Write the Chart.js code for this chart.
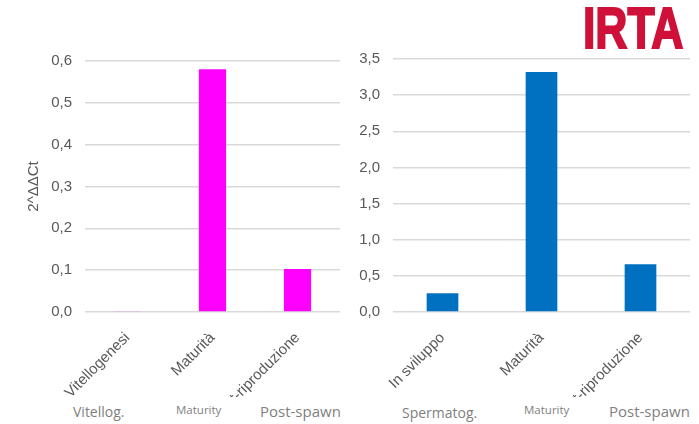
<!DOCTYPE html>
<html>
<head>
<meta charset="utf-8">
<script src="https://cdn.jsdelivr.net/npm/chart.js@4"></script>
<style>
    body { margin: 0; background: #ffffff; width: 699px; height: 424px; overflow: hidden; position: relative; }
    canvas { position: absolute; top: 0; }
    .note { position: absolute; font-family: "Open Sans", sans-serif; color: #7f7f7f; line-height: 1; white-space: nowrap; }
    .logo { position: absolute; left: 583px; top: 0; font-family: "Liberation Sans", Arial, sans-serif; font-weight: bold;
            font-size: 57px; line-height: 1; color: #cf1139; -webkit-text-stroke: 2px #cf1139;
            transform: scaleX(0.78); transform-origin: left top; }
</style>
</head>
<body>
<div class="logo">IRTA</div>
<canvas id="ChartFemale" width="340" height="397" style="left:0px;"></canvas>
<canvas id="ChartMale" width="345" height="397" style="left:345px;"></canvas>

<div class="note" style="left:73px; top:405px; font-size:14px;">Vitellog.</div>
<div class="note" style="left:176px; top:404px; font-size:11.5px;">Maturity</div>
<div class="note" style="left:260px; top:404px; font-size:15px;">Post-spawn</div>
<div class="note" style="left:402px; top:406px; font-size:14px;">Spermatog.</div>
<div class="note" style="left:524px; top:404px; font-size:11.5px;">Maturity</div>
<div class="note" style="left:609px; top:404px; font-size:15px;">Post-spawn</div>

<script>
var femaleStages = ["Vitellogenesi", "Maturità", "Post-riproduzione"];
var femaleValues = [0.002, 0.58, 0.103];
var femaleTicks = { max: 0.6, step: 0.1 };

var maleStages = ["In sviluppo", "Maturità", "Post-riproduzione"];
var maleValues = [0.26, 3.32, 0.66];
var maleTicks = { max: 3.5, step: 0.5 };

function MakeChart(id, labels, values, color, yTicks, yWidth, topPad, title) {
    var ctx = document.getElementById(id).getContext('2d');

    return new Chart(ctx, {
        type: 'bar',
        data: {
            labels: labels,
            datasets: [
                {
                    data: values,
                    backgroundColor: color,
                    borderWidth: 0,
                    barPercentage: 0.32,
                    categoryPercentage: 1
                }
            ]
        },
        options: {
            responsive: false,
            animation: false,
            layout: { padding: { top: topPad, left: 0, right: 0, bottom: 0 } },
            plugins: {
                legend: { display: false },
                tooltip: { enabled: false }
            },
            scales: {
                x: {
                    grid: { display: false },
                    border: { display: false },
                    ticks: {
                        autoSkip: false,
                        minRotation: 45,
                        maxRotation: 45,
                        padding: 9,
                        color: '#595959',
                        font: { family: 'Liberation Sans', size: 15 }
                    },
                    afterFit: function (s) {
                        s.height = 85;
                        s.paddingLeft = 0;
                        s.paddingRight = 0;
                    }
                },
                y: {
                    min: 0,
                    max: yTicks.max,
                    grid: { color: '#d9d9d9', lineWidth: 1.5, drawTicks: false },
                    border: { display: false },
                    ticks: {
                        stepSize: yTicks.step,
                        padding: 13,
                        color: '#595959',
                        font: { family: 'Liberation Sans', size: 15 },
                        callback: function (v) { return v.toFixed(1).replace('.', ','); }
                    },
                    title: {
                        display: title != null,
                        text: title,
                        color: '#595959',
                        padding: { top: 25, bottom: 0 },
                        font: { family: 'Liberation Sans', size: 15 }
                    },
                    afterFit: function (s) {
                        s.width = yWidth;
                        s.paddingTop = 0;
                        s.paddingBottom = 0;
                    }
                }
            }
        }
    });
}

MakeChart('ChartFemale', femaleStages, femaleValues, '#ff00ff', femaleTicks, 85, 61, '2^ΔΔCt');
MakeChart('ChartMale', maleStages, maleValues, '#0070c0', maleTicks, 48, 59, null);
</script>
</body>
</html>
